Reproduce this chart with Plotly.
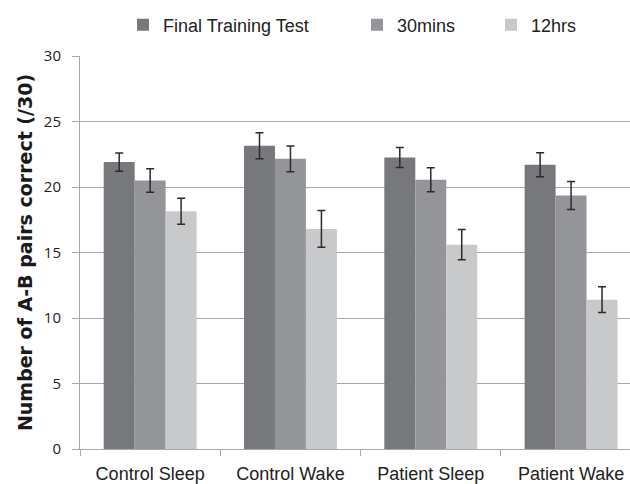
import plotly.graph_objects as go

# Groups on the x axis
groups = ["Control Sleep", "Control Wake", "Patient Sleep", "Patient Wake"]

# Mean number of A-B pairs correct (out of 30) per test session
final_training = [21.9, 23.15, 22.25, 21.7]
mins_30 = [20.5, 22.15, 20.55, 19.35]
hrs_12 = [18.15, 16.8, 15.6, 11.4]

# Error bar half-widths
final_training_err = [0.7, 1.0, 0.77, 0.92]
mins_30_err = [0.9, 0.98, 0.91, 1.07]
hrs_12_err = [1.0, 1.4, 1.16, 0.98]

series_names = ["Final Training Test", "30mins", "12hrs"]
series_colors = ["#77787b", "#949598", "#c8c9cb"]

grid_gray = "#a8a8a8"
label_font = dict(family="Liberation Sans, Arial, sans-serif", size=18, color="#222222")

fig = go.Figure()
series = [
    (final_training, final_training_err),
    (mins_30, mins_30_err),
    (hrs_12, hrs_12_err),
]
legend_ids = ["legend", "legend2", "legend3"]
for (vals, errs), name, color, lg in zip(series, series_names, series_colors, legend_ids):
    fig.add_trace(go.Bar(
        x=groups, y=vals, name=name, legend=lg, showlegend=True,
        marker=dict(color=color, line=dict(width=0)),
        error_y=dict(type="data", array=errs, visible=True,
                     color="#2b2b2b", thickness=1.5, width=4),
    ))

# One legend per series so each entry sits at its own spot along the top
legend_x = [123, 357, 491]
legend_common = dict(orientation="h", xref="container", yref="container",
                     xanchor="left", yanchor="middle", y=1 - 25 / 484,
                     font=label_font, bgcolor="rgba(0,0,0,0)",
                     itemwidth=30)

fig.update_layout(
    width=630, height=484,
    showlegend=True,
    margin=dict(l=80, r=0, t=56, b=32),
    paper_bgcolor="white", plot_bgcolor="white",
    barmode="group", bargap=0.338, bargroupgap=0,
    legend=dict(x=legend_x[0] / 630, **legend_common),
    legend2=dict(x=legend_x[1] / 630, **legend_common),
    legend3=dict(x=legend_x[2] / 630, **legend_common),
    xaxis=dict(
        range=[-0.5, 3.42], showline=True, linecolor=grid_gray, linewidth=1,
        ticks="outside", tickson="boundaries", ticklen=6, tickcolor=grid_gray,
        tickfont=label_font, ticklabelstandoff=8, showgrid=False,
    ),
    yaxis=dict(
        range=[0, 30], dtick=5, showgrid=True, gridcolor=grid_gray, gridwidth=1,
        showline=True, linecolor=grid_gray, linewidth=1, zeroline=False,
        ticks="outside", ticklen=7, tickcolor=grid_gray,
        tickfont=dict(family="Open Sans, sans-serif", size=15, color="#222222"),
        ticklabelstandoff=8,
        title=dict(text="<b>Number of A-B pairs correct (/30)</b>",
                   font=dict(family="DejaVu Sans, sans-serif", size=19, color="#1a1a1a"),
                   standoff=6),
    ),
)

fig.write_html("out.html")
